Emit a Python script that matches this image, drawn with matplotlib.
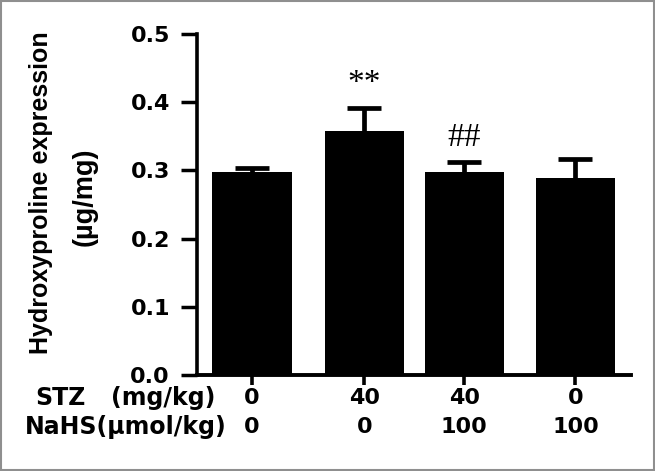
import matplotlib

matplotlib.use("Agg")
import matplotlib.pyplot as plt
import matplotlib.transforms as mtransforms
from matplotlib.patches import Rectangle

# Group doses and hydroxyproline values (mean, upper SEM)
stz_dose = ["0", "40", "40", "0"]
nahs_dose = ["0", "0", "100", "100"]
hyp_mean = [0.298, 0.358, 0.298, 0.289]
hyp_err = [0.006, 0.033, 0.014, 0.027]
sig_marks = ["", "**", "##", ""]
y_ticks = [0.0, 0.1, 0.2, 0.3, 0.4, 0.5]

# layout only
bar_pos = [0, 1.02, 1.93, 2.94]
W, H = 655, 471

fig = plt.figure(figsize=(W / 100, H / 100), dpi=100)
ax = fig.add_axes([197 / W, 1 - 375 / H, 434 / W, 341 / H])

ax.bar(bar_pos, hyp_mean, width=0.72, color="black", zorder=3)
_, caps, _ = ax.errorbar(
    bar_pos,
    hyp_mean,
    yerr=[[0] * len(hyp_err), hyp_err],
    fmt="none",
    ecolor="black",
    elinewidth=3.4,
    capsize=12,
    capthick=3.4,
    zorder=2,
)
caps[0].remove()  # only the upper cap is drawn

for x, m, e, s in zip(bar_pos, hyp_mean, hyp_err, sig_marks):
    if s:
        ax.text(x, m + e + 0.036, s, ha="center", va="center",
                fontsize=24, family="Liberation Serif")

ax.set_xlim(-0.5, 3.445)
ax.set_ylim(0, 0.5)
ax.set_yticks(y_ticks)
ax.set_yticklabels([f"{t:.1f}" for t in y_ticks], fontsize=16,
                   fontweight="bold", family="DejaVu Sans")
ax.set_xticks(bar_pos)
ax.set_xticklabels([])

ax.spines["top"].set_visible(False)
ax.spines["right"].set_visible(False)
ax.spines["left"].set_linewidth(2.6)
ax.spines["bottom"].set_linewidth(2.8)
ax.tick_params(axis="y", length=11.5, width=2.5, pad=8)
ax.tick_params(axis="x", length=7, width=2.6)

# y-axis title, two lines
fig.text(41.5 / W, 1 - 193 / H, "Hydroxyproline expression", rotation=90,
         ha="center", va="center", fontsize=18, fontweight="bold",
         family="Liberation Sans")
fig.text(85 / W, 1 - 197 / H, "(\u00b5g/mg)", rotation=90,
         ha="center", va="center", fontsize=19.5, fontweight="bold",
         family="Liberation Sans")

# dose table under the x axis
trans = mtransforms.blended_transform_factory(ax.transData, fig.transFigure)
row1_y = 1 - 398 / H
row2_y = 1 - 427 / H
fig.text(35 / W, row1_y, "STZ", ha="left", va="center", fontsize=17,
         fontweight="bold", family="DejaVu Sans")
fig.text(215 / W, row1_y, "(mg/kg)", ha="right", va="center", fontsize=17,
         fontweight="bold", family="DejaVu Sans")
fig.text(25 / W, row2_y, "NaHS(\u00b5mol/kg)", ha="left", va="center",
         fontsize=17, fontweight="bold", family="DejaVu Sans")
for x, a, b in zip(bar_pos, stz_dose, nahs_dose):
    ax.text(x, row1_y, a, transform=trans, ha="center", va="center",
            fontsize=16, fontweight="bold", family="DejaVu Sans")
    ax.text(x, row2_y, b, transform=trans, ha="center", va="center",
            fontsize=16, fontweight="bold", family="DejaVu Sans")

# grey frame around the figure
fig.patches.append(Rectangle((0.002, 0.003), 0.996, 0.994, transform=fig.transFigure,
                             fill=False, edgecolor="#8f8f8f", linewidth=1.5))

fig.savefig("out.png", dpi=100)
